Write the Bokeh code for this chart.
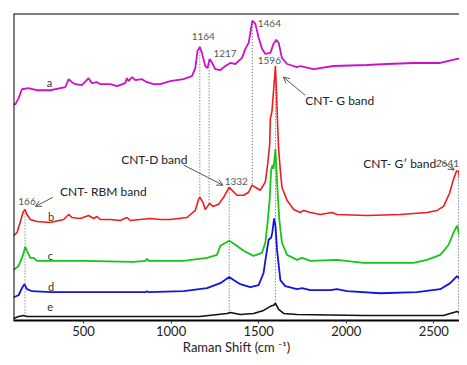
from bokeh.plotting import figure
from bokeh.models import ColumnDataSource, Span, Arrow, OpenHead, FixedTicker, Range1d
from bokeh.core.properties import value
from bokeh.embed import file_html
from bokeh.resources import INLINE

# Raman shift (cm-1) and stacked intensities (a.u.)
wn_a = [100,110,129,148,186,234,310,396,415,434,453,491,529,548,577,596,653,691,738,748,
        757,777,796,834,862,900,938,995,1071,1119,1138,1151,1164,1176,1195,1208,1220,1235,1252,1281,
        1310,1338,1367,1405,1424,1443,1464,1481,1500,1519,1538,1567,1585,1601,1614,1633,1662,1719,1738,1814,
        1928,2119,2233,2385,2537,2633,2692]
int_a = [214,214,220,229,230,228,228,231,239,236,234,233,240,235,236,234,234,232,235,240,
         237,241,238,239,236,234,234,237,239,242,250,267,271,265,252,250,259,255,249,248,
         252,255,254,260,269,275,297,294,280,269,264,265,274,278,275,260,254,251,252,249,
         252,253,254,255,255,259,260]

wn_b = [100,120,143,154,166,177,196,234,310,386,415,434,481,529,557,577,596,653,710,748,
        767,824,881,938,995,1091,1138,1157,1164,1182,1195,1208,1220,1239,1271,1300,1332,1348,1376,1414,
        1443,1462,1481,1509,1538,1551,1563,1567,1576,1596,1602,1608,1614,1624,1633,1662,1700,1738,1757,1795,
        1852,1919,1947,2119,2309,2461,2519,2556,2590,2613,2630,2641,2652,2661,2680,2692]
int_b = [84,87,100,107,110,105,100,98,97,100,105,102,101,104,101,103,100,100,99,102,
         99,100,101,100,100,102,109,120,122,117,110,113,116,113,115,122,132,129,124,124,
         127,134,132,129,137,154,174,200,207,252,225,195,170,148,132,119,110,107,109,107,
         105,107,105,104,105,107,109,113,126,140,148,148,136,126,115,111]

wn_c = [100,129,148,158,167,177,196,215,234,310,500,786,853,862,872,1071,1205,1262,1281,1332,
        1367,1414,1471,1519,1538,1551,1563,1571,1580,1585,1596,1605,1618,1633,1662,1719,1748,1795,1947,2099,
        2385,2461,2537,2585,2613,2633,2652,2680,2692]
int_c = [50,54,62,67,73,69,62,62,59,59,59,58,59,61,59,59,62,65,74,79,
         75,69,64,67,77,97,120,149,154,150,170,137,100,77,65,60,62,59,60,57,
         57,60,65,75,87,94,80,64,60]

wn_d = [100,129,148,162,177,206,310,596,853,862,872,1071,1205,1281,1332,1357,1395,1452,1500,1528,
        1538,1557,1571,1578,1588,1596,1605,1624,1652,1719,1748,1795,1909,1947,2005,2195,2404,2537,2594,2633,
        2661,2692]
int_d = [23,25,32,36,31,29,28,28,28,29,28,29,32,37,43,40,36,33,35,47,
         59,80,82,87,101,94,70,40,34,31,32,30,30,31,29,27,28,31,37,44,
         39,35]

wn_e = [100,129,158,177,215,596,1164,1319,1338,1395,1471,1528,1567,1585,1596,1614,1643,1719,2099,2556,
        2594,2633,2661,2692]
int_e = [2,4,5,4,4,4,4,7,8,6,7,10,14,15,17,11,7,6,5,5,7,9,6,5]

# marked peaks (dotted guides)
peak_wn = [166, 1164, 1217, 1332, 1464, 1596, 2641]
peak_top = [110, 271, 259, 132, 297, 252, 148]
peak_bottom = [4, 122, 116, 7, 135, 17, 5]
peak_text = ["166", "1164", "1217", "1332", "1464", "1596", "2641"]
peak_text_x = [177, 1184, 1308, 1372, 1561, 1561, 2578]
peak_text_y = [118, 281, 264, 138, 294, 257, 155]

band_text = ["CNT- G band", "CNT-D band", "CNT- RBM band", "CNT- G\u2032 band"]
band_x = [1963, 904, 613, 2306]
band_y = [218, 159, 128, 155]
arrow_x0 = [1766, 1071, 325, 2533]
arrow_y0 = [223, 154, 122, 159]
arrow_x1 = [1641, 1296, 225, 2617]
arrow_y1 = [241, 134, 113, 149]

curve_names = ["a", "b", "c", "d", "e"]
curve_name_x = [306, 314, 310, 314, 310]
curve_name_y = [236, 103, 64, 34, 13]
tick_values = [500, 1000, 1500, 2000, 2500]

FONT = "Lato"

p = figure(width=459, height=357, output_backend="svg", toolbar_location=None,
           x_range=Range1d(100, 2647), y_range=Range1d(0, 304),
           min_border_left=13, min_border_right=0, min_border_top=13, min_border_bottom=0)
p.outline_line_color = None
p.grid.visible = False
p.yaxis.visible = False
p.background_fill_color = "white"

ax = p.xaxis[0]
ax.ticker = FixedTicker(ticks=tick_values)
ax.axis_line_width = 2
ax.axis_line_color = "black"
ax.major_tick_in = 0
ax.major_tick_out = 3
ax.major_tick_line_color = "#333333"
ax.minor_tick_line_color = None
ax.major_label_text_font = FONT
ax.major_label_text_font_size = "13px"
ax.major_label_text_color = "#222222"
ax.major_label_standoff = 2
ax.axis_label = "Raman Shift (cm \u207b\u00b9)"
ax.axis_label_text_font = FONT
ax.axis_label_text_font_style = "normal"
ax.axis_label_text_font_size = "13px"
ax.axis_label_text_color = "#222222"
ax.axis_label_standoff = 0

p.add_layout(Span(location=100, dimension="height", line_color="black", line_width=2))
p.add_layout(Span(location=304, dimension="width", line_color="black", line_width=2))

# dotted guide lines
p.segment(x0=peak_wn, y0=peak_bottom, x1=peak_wn, y1=peak_top,
          line_color="#555555", line_width=1, line_dash="1 2")

p.line(wn_a, int_a, line_color="#CC11CC", line_width=1.8)
p.line(wn_b, int_b, line_color="#EE1C1C", line_width=1.6)
p.line(wn_c, int_c, line_color="#18C418", line_width=1.8)
p.line(wn_d, int_d, line_color="#1414E0", line_width=1.8)
p.line(wn_e, int_e, line_color="#111111", line_width=1.6)

p.text(x=peak_text_x, y=peak_text_y, text=peak_text, text_font=value(FONT),
       text_font_size="10px", text_color="#555555", text_align="center", text_baseline="middle")
p.text(x=band_x, y=band_y, text=band_text, text_font=value(FONT),
       text_font_size="12px", text_color="#222222", text_align="center", text_baseline="middle")
p.text(x=curve_name_x, y=curve_name_y, text=curve_names, text_font=value(FONT),
       text_font_size="11px", text_color="#333333", text_align="center", text_baseline="middle")

arrow_src = ColumnDataSource(dict(x0=arrow_x0, y0=arrow_y0, x1=arrow_x1, y1=arrow_y1))
p.add_layout(Arrow(end=OpenHead(size=6, line_color="#555555", line_width=1),
                   x_start="x0", y_start="y0", x_end="x1", y_end="y1",
                   source=arrow_src, line_color="#555555", line_width=1))

open("out.html", "w").write(file_html(p, INLINE))
